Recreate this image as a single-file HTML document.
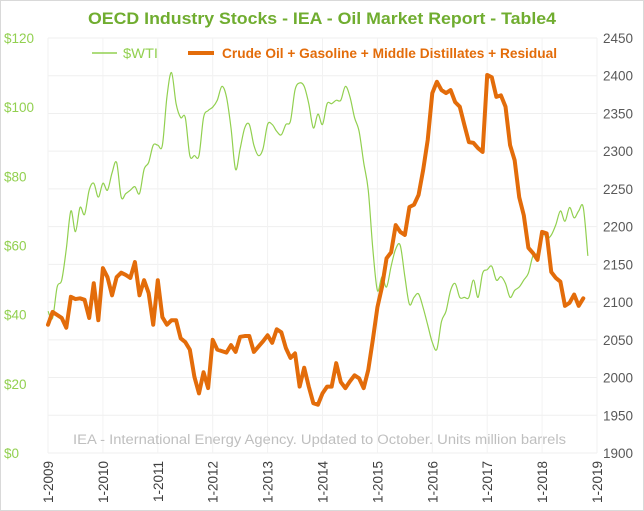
<!DOCTYPE html>
<html><head><meta charset="utf-8"><style>
html,body{margin:0;padding:0;background:#fff;}
#wrap{position:relative;width:644px;height:511px;overflow:hidden;font-family:"Liberation Sans",sans-serif;}
</style></head><body>
<div id="wrap">
<svg id="chart" width="644" height="511" xmlns="http://www.w3.org/2000/svg">
<rect x="0.5" y="0.5" width="643" height="510" fill="#fff" stroke="#d9d9d9"/>
<g id="grid"></g>
<text x="88" y="24" textLength="468" lengthAdjust="spacingAndGlyphs" font-size="17" font-weight="bold" fill="#70ad30">OECD Industry Stocks - IEA - Oil Market Report - Table4</text>
<g>
<line x1="92" y1="53" x2="117" y2="53" stroke="#92d050" stroke-width="1.5"/>
<text x="123" y="58" textLength="35" lengthAdjust="spacingAndGlyphs" font-size="14" fill="#92d050">$WTI</text>
<line x1="188" y1="53" x2="214" y2="53" stroke="#e36c0a" stroke-width="4"/>
<text x="222" y="58" textLength="335" lengthAdjust="spacingAndGlyphs" font-size="14" font-weight="bold" fill="#e36c0a">Crude Oil + Gasoline + Middle Distillates + Residual</text>
</g>
<text x="73" y="444" textLength="493" lengthAdjust="spacingAndGlyphs" font-size="13.5" fill="#bfbfbf">IEA - International Energy Agency. Updated to October. Units million barrels</text>
<g id="axes"></g>
<g id="series"></g>
</svg>
</div>
<script>
const yearLabels = ["1-2009","1-2010","1-2011","1-2012","1-2013","1-2014","1-2015","1-2016","1-2017","1-2018","1-2019"];
const leftTicks = [0,20,40,60,80,100,120];
const rightTicks = [1900,1950,2000,2050,2100,2150,2200,2250,2300,2350,2400,2450];
const wtiValues = [41,39,48,50,59,70,64,71,69,76,78,74,
78,76,81,84,74,75,76,77,75,82,84,89,
89,89,103,110,101,97,97,86,86,86,97,99,
100,102,106,103,94,82,88,94,95,89,86,88,
95,95,93,92,95,96,105,107,106,101,94,98,
95,101,101,102,102,106,103,97,93,84,76,59,
47,51,48,54,59,60,51,43,45,46,42,37,
32,30,38,41,47,49,45,45,45,50,45,52,
53,54,50,51,49,45,47,48,50,52,57,58,
64,62,63,66,70,67,71,68,70,71,57];
const stockValues = [2070,2087,2083,2079,2066,2107,2104,2105,2103,2079,2125,2076,
2145,2133,2109,2133,2139,2136,2132,2153,2109,2129,2112,2070,
2129,2080,2070,2076,2076,2052,2047,2037,2001,1979,2007,1986,
2050,2037,2035,2033,2043,2034,2054,2055,2055,2034,2041,2048,
2056,2046,2064,2060,2039,2026,2032,1988,2013,1988,1966,1964,
1979,1988,1988,2019,1994,1986,1995,2003,1999,1986,2010,2050,
2093,2120,2158,2166,2202,2193,2189,2226,2229,2242,2275,2315,
2377,2392,2381,2377,2381,2365,2359,2335,2312,2311,2304,2299,
2401,2398,2372,2374,2359,2308,2288,2239,2215,2172,2165,2156,
2193,2191,2140,2132,2127,2095,2099,2110,2095,2105];

const X0=48, X1=597, YB=453, YT=38;
const xMonth = m => X0 + m*(X1-X0)/120;
const yLeft = v => YB - (v-0)*(YB-YT)/120;
const yRight = v => YB - (v-1900)*(YB-YT)/550;
const NS="http://www.w3.org/2000/svg";
function mk(tag, attrs, parent){const e=document.createElementNS(NS,tag);for(const k in attrs)e.setAttribute(k,attrs[k]);parent.appendChild(e);return e;}
const grid=document.getElementById('grid'), axes=document.getElementById('axes'), series=document.getElementById('series');

rightTicks.forEach(t=>{
  const l=mk('line',{x1:X0,x2:X1,y1:yRight(t),y2:yRight(t),stroke:'#efefef','stroke-width':1},grid);
  
  
  const tx=mk('text',{x:603,y:yRight(t)+5,'font-size':13.5,fill:'#595959'},axes);
  tx.textContent=t;
  
  
});
yearLabels.forEach((lab,i)=>{
  const x=xMonth(i*12);
  const l=mk('line',{x1:x,x2:x,y1:YT,y2:YB,stroke:'#f2f2f2','stroke-width':1},grid);
  
  
  const tx=mk('text',{x:0,y:0,'font-size':13.5,fill:'#404040','text-anchor':'end',transform:`translate(${x+5},${YB+8}) rotate(-90)`},axes);
  tx.textContent=lab;
  
  
});
leftTicks.forEach(t=>{
  const tx=mk('text',{x:4,y:yLeft(t)+5,'font-size':13.5,fill:'#92d050'},axes);
  tx.textContent='$'+t;
  
  
});

const wp=wtiValues.map((v,i)=>[xMonth(i),yLeft(v)]);
let d=`M${wp[0][0]},${wp[0][1]}`;
for(let i=0;i<wp.length-1;i++){
  const p0=wp[Math.max(0,i-1)],p1=wp[i],p2=wp[i+1],p3=wp[Math.min(wp.length-1,i+2)];
  const c1=[p1[0]+(p2[0]-p0[0])/6,p1[1]+(p2[1]-p0[1])/6];
  const c2=[p2[0]-(p3[0]-p1[0])/6,p2[1]-(p3[1]-p1[1])/6];
  d+=` C${c1[0]},${c1[1]} ${c2[0]},${c2[1]} ${p2[0]},${p2[1]}`;
}
const wl=mk('path',{d:d,fill:'none',stroke:'#92d050','stroke-width':1.2},series);



const sl=mk('polyline',{points:stockValues.map((v,i)=>xMonth(i)+','+yRight(v)).join(' '),fill:'none',stroke:'#e36c0a','stroke-width':4,'stroke-linejoin':'round','stroke-linecap':'round'},series);


</script>
</body></html>
